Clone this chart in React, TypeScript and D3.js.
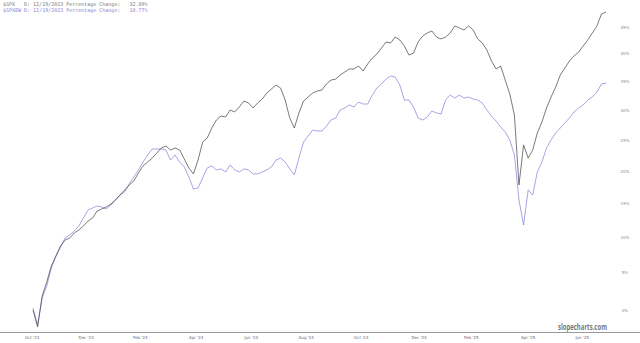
import React from "react";
import * as d3 from "d3";

// Percentage change since start, sampled every 5 calendar days
const START_DATE = "2023-10-18";
const STEP_DAYS = 5;

const spxValues = [
  0.0, -2.2, 1.86, 3.75, 5.95, 7.34, 8.76, 9.62, 9.91, 10.64,
  11.07, 11.66, 12.39, 12.84, 13.88, 14.18, 14.48, 14.93, 15.54, 16.31,
  17.07, 17.85, 18.46, 19.72, 20.82, 21.45, 22.08, 22.89, 23.7, 24.02,
  23.37, 23.7, 23.37, 21.92, 20.5, 19.56, 21.76, 24.67, 25.33, 26.99,
  28.33, 29.01, 28.84, 30.03, 29.69, 30.54, 31.57, 31.23, 30.37, 31.23,
  31.91, 32.96, 33.66, 34.36, 33.83, 31.74, 28.67, 26.99, 29.52, 31.57,
  32.26, 32.96, 33.31, 33.48, 34.54, 35.24, 35.42, 36.14, 36.68, 37.22,
  37.22, 37.76, 36.86, 38.13, 39.21, 39.94, 41.05, 42.17, 41.99, 43.11,
  42.55, 41.42, 39.76, 40.12, 42.17, 43.3, 43.87, 44.24, 43.11, 42.74,
  43.11, 43.87, 45.2, 44.81, 44.43, 45.2, 44.43, 42.74, 41.99, 40.67,
  38.67, 37.22, 37.76, 35.24, 32.78, 29.18, 17.85, 24.19, 22.08, 23.37,
  26.16, 27.99, 30.37, 32.26, 34.0, 36.14, 37.4, 38.67, 39.58, 40.3,
  41.42, 42.55, 43.87, 45.2, 47.5, 47.88,
];

const spxewValues = [
  0.26, -1.95, 1.59, 3.2, 5.67, 7.34, 8.61, 9.91, 10.35, 10.93,
  11.66, 12.84, 14.03, 14.33, 14.63, 14.48, 14.18, 14.78, 15.54, 16.31,
  16.76, 18.0, 19.09, 20.19, 21.45, 22.57, 23.53, 23.53, 23.53, 23.37,
  21.76, 22.57, 21.45, 20.66, 19.09, 17.23, 17.38, 18.93, 20.5, 20.82,
  20.19, 20.35, 19.88, 20.97, 20.19, 19.88, 20.35, 20.19, 19.56, 19.56,
  19.88, 20.19, 20.66, 21.76, 22.08, 21.45, 20.35, 19.41, 22.08, 24.67,
  25.66, 26.66, 26.49, 26.49, 27.32, 28.33, 28.67, 30.03, 30.37, 30.89,
  30.54, 31.4, 31.05, 31.05, 32.61, 33.83, 34.54, 35.42, 35.96, 35.78,
  34.36, 31.74, 31.74, 30.54, 28.67, 28.33, 28.84, 29.86, 29.52, 29.35,
  31.74, 32.61, 32.09, 32.61, 32.09, 32.26, 31.91, 31.74, 31.23, 30.03,
  29.01, 28.16, 27.16, 26.33, 25.0, 22.57, 15.54, 11.8, 17.07, 16.31,
  19.88, 21.45, 23.7, 25.0, 26.16, 26.99, 27.83, 28.67, 29.69, 30.37,
  30.89, 31.74, 32.26, 33.13, 34.54, 34.71,
];

const xTickDates = [
  "2023-10-17", "2023-12-15", "2024-02-12", "2024-04-13", "2024-06-12",
  "2024-08-11", "2024-10-10", "2024-12-12", "2025-02-07", "2025-04-10", "2025-06-08",
];
const xTickLabels = [
  "Oct '23", "Dec '23", "Feb '24", "Apr '24", "Jun '24",
  "Aug '24", "Oct '24", "Dec '24", "Feb '25", "Apr '25", "Jun '25",
];
const yTickValues = [0, 5, 10, 15, 20, 25, 30, 35, 40, 45];

const legendLines = [
  "$SPX   D: 12/19/2023 Percentage Change:   32.89%",
  "$SPXEW D: 12/19/2023 Percentage Change:   18.77%",
];

const W = 640;
const H = 343;

export default function App() {
  const parse = d3.timeParse("%Y-%m-%d");
  const start = parse(START_DATE) as Date;
  const nSteps = spxValues.length - 1;
  const end = d3.timeDay.offset(start, nSteps * STEP_DAYS);

  const x = d3.scaleTime().domain([start, end]).range([33, 606.1]);
  const y = d3.scaleLog().domain([1, 1.45]).range([310, 27]);

  const toPts = (vals: number[]) =>
    vals.map((v, i) => ({ d: d3.timeDay.offset(start, i * STEP_DAYS), v }));

  const line = d3
    .line<{ d: Date; v: number }>()
    .x((p) => x(p.d))
    .y((p) => y(1 + p.v / 100));

  const spxPath = line(toPts(spxValues)) || "";
  const ewPath = line(toPts(spxewValues)) || "";

  return (
    <div style={{ position: "fixed", left: 0, top: 0, width: W, height: H, background: "#fff" }}>
      <svg width={W} height={H} style={{ display: "block" }}>
        <rect x={0} y={0} width={W} height={H} fill="#ffffff" />
        {/* legend */}
        <text
          x={3}
          y={6}
          fontFamily="'DejaVu Sans Mono', monospace"
          fontSize={5}
          fill="#777"
          style={{ whiteSpace: "pre" }}
        >
          {legendLines[0]}
        </text>
        <text
          x={3}
          y={12}
          fontFamily="'DejaVu Sans Mono', monospace"
          fontSize={5}
          fill="#8484d4"
          style={{ whiteSpace: "pre" }}
        >
          {legendLines[1]}
        </text>

        {/* y tick labels */}
        {yTickValues.map((t) => (
          <text
            key={t}
            x={625}
            y={y(1 + t / 100) + 1.5}
            textAnchor="middle"
            fontFamily="'DejaVu Sans', sans-serif"
            fontSize={4}
            fill="#888"
          >
            {t}%
          </text>
        ))}

        {/* lines */}
        <path d={ewPath} fill="none" stroke="#7e7edb" strokeWidth={0.7} strokeLinejoin="round" />
        <path d={spxPath} fill="none" stroke="#404040" strokeWidth={0.7} strokeLinejoin="round" />

        {/* x axis */}
        <line x1={0} x2={W} y1={332.5} y2={332.5} stroke="#9a9a9a" strokeWidth={1} />
        {xTickDates.map((ds, i) => (
          <text
            key={ds}
            x={x(parse(ds) as Date)}
            y={339}
            textAnchor="middle"
            fontFamily="'DejaVu Sans', sans-serif"
            fontSize={4}
            fill="#667"
          >
            {xTickLabels[i]}
          </text>
        ))}

        {/* watermark */}
        <text
          x={558}
          y={330}
          fontFamily="'Open Sans', 'DejaVu Sans', sans-serif"
          fontWeight="bold"
          fontSize={8}
          fill="#777"
          textLength={49}
          lengthAdjust="spacingAndGlyphs"
        >
          slopecharts.com
        </text>
      </svg>
    </div>
  );
}
